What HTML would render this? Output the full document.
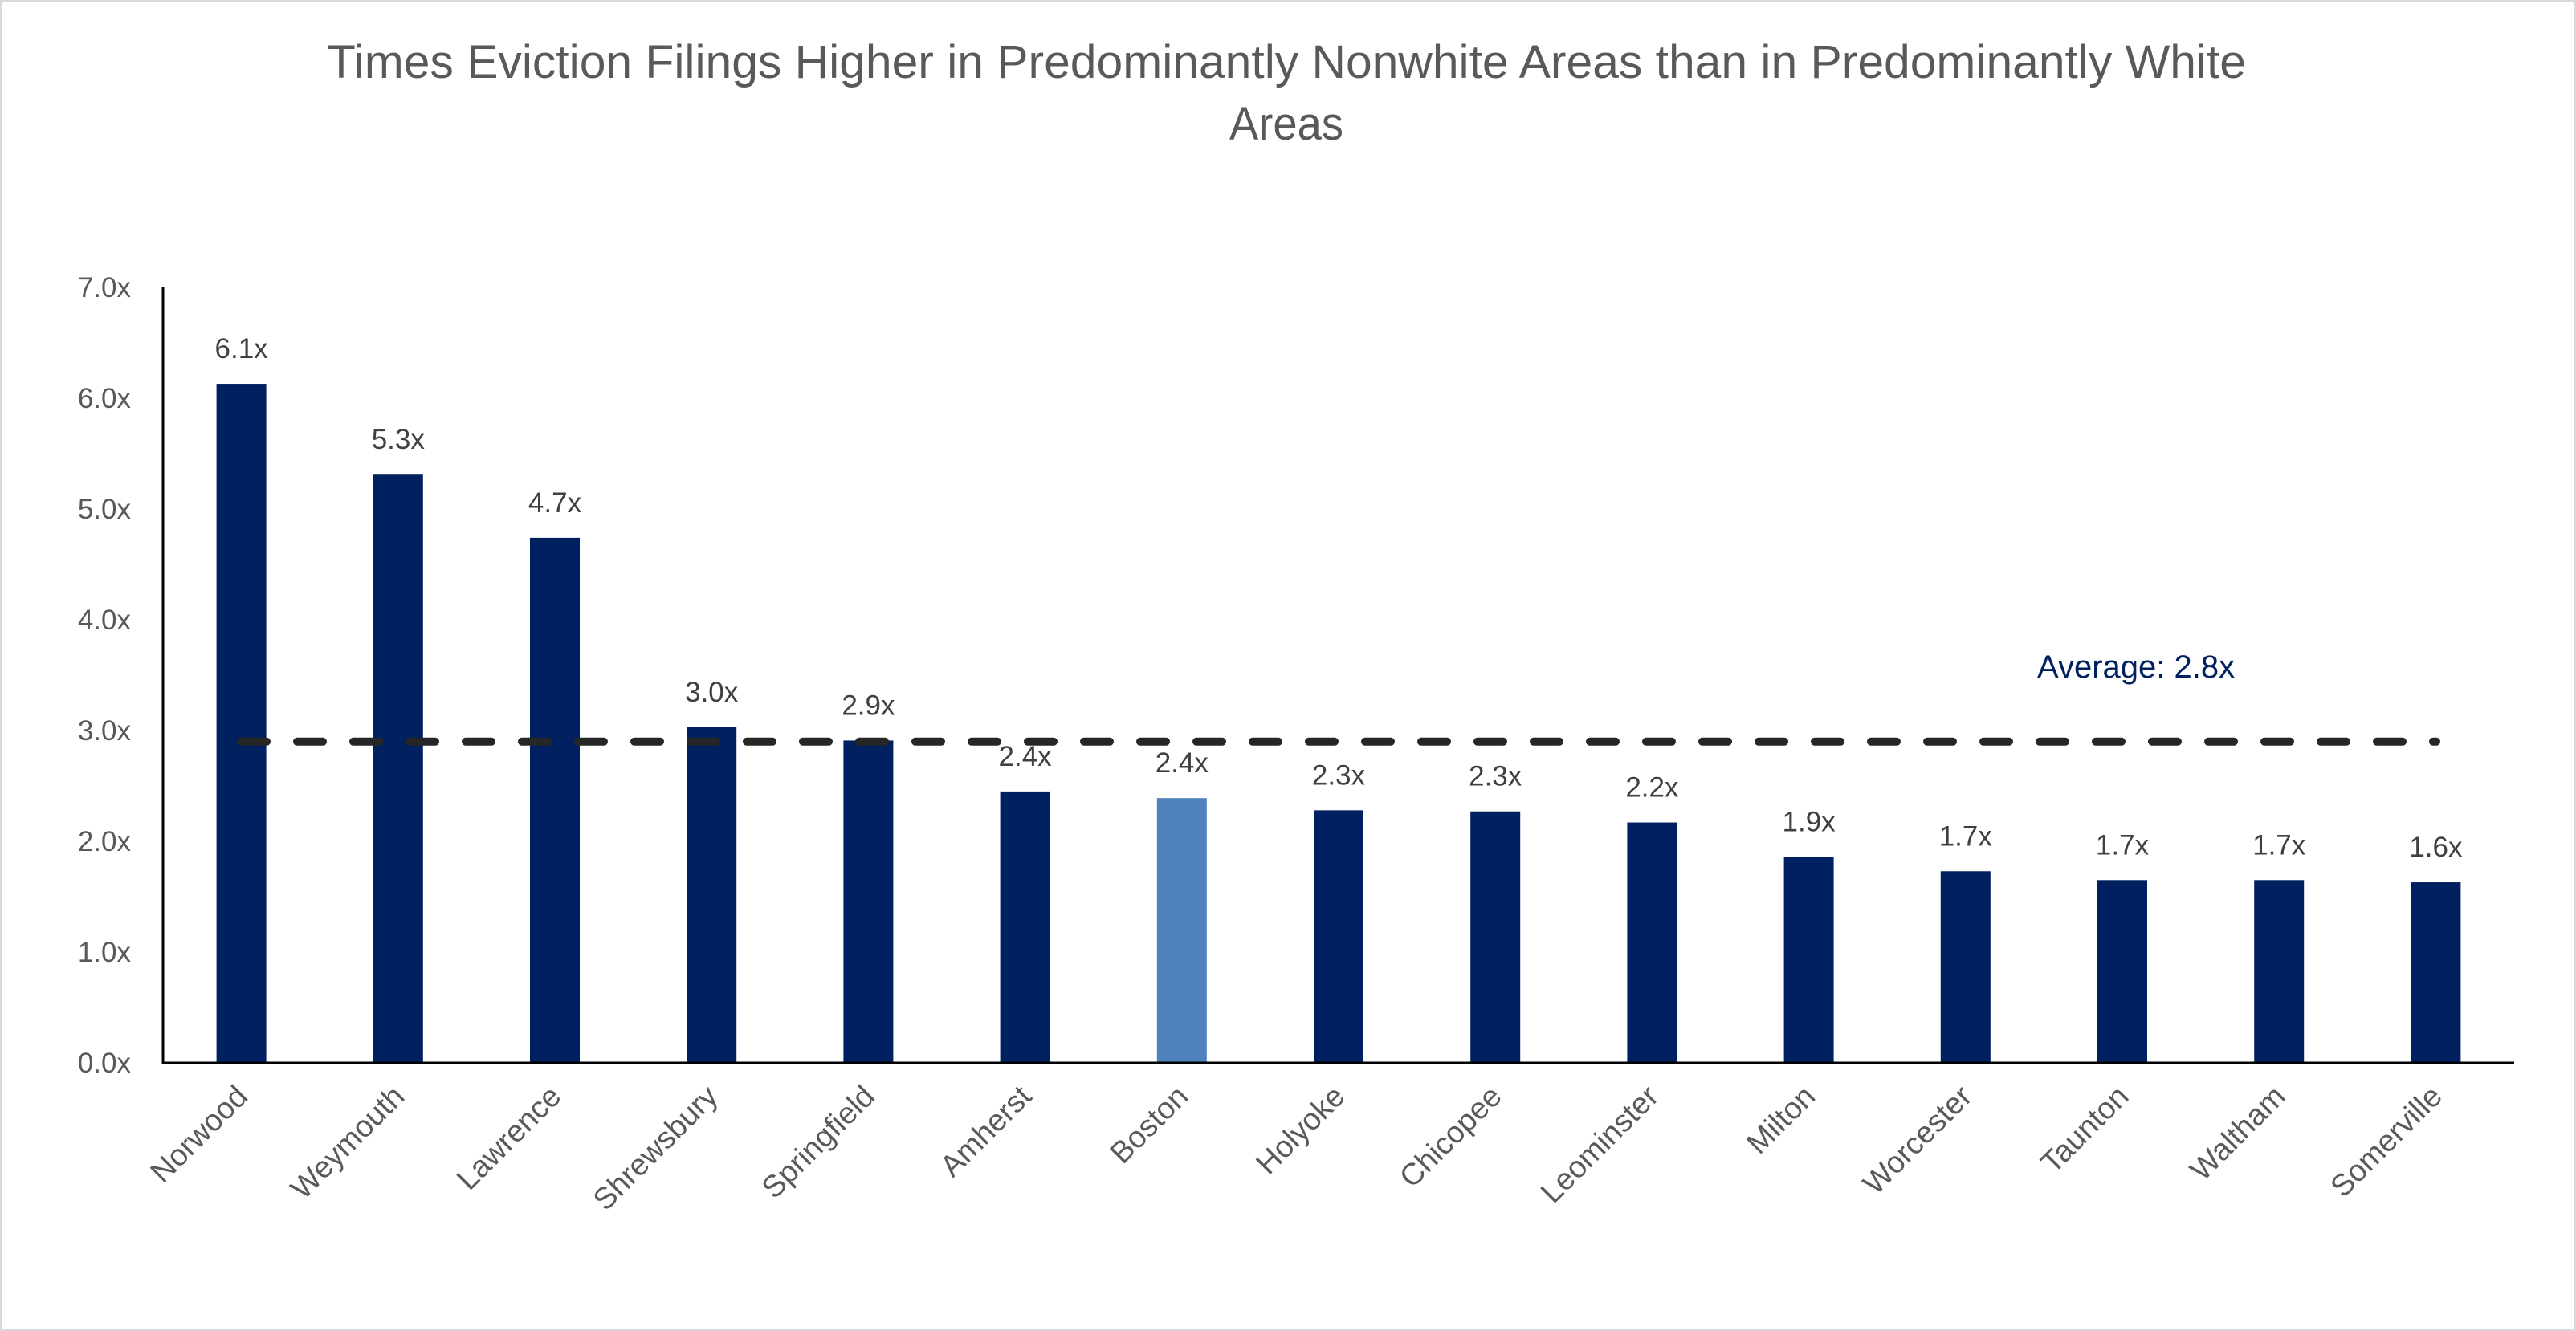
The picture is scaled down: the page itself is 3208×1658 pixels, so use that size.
<!DOCTYPE html>
<html><head><meta charset="utf-8">
<style>
html,body{margin:0;padding:0;background:#fff;}
svg{display:block;font-family:"Liberation Sans",sans-serif;}
</style></head>
<body>
<svg id="chart" width="3208" height="1658" viewBox="0 0 3208 1658" xmlns="http://www.w3.org/2000/svg">
<rect x="1" y="1" width="3206" height="1656" fill="#fff" stroke="#d9d9d9" stroke-width="2"/>
<text x="1602" y="97" text-anchor="middle" font-size="58" fill="#595959" textLength="2390" lengthAdjust="spacingAndGlyphs">Times Eviction Filings Higher in Predominantly Nonwhite Areas than in Predominantly White</text>
<text x="1602" y="174" text-anchor="middle" font-size="58" fill="#595959" textLength="142" lengthAdjust="spacingAndGlyphs">Areas</text>
<g id="plot"></g>
</svg>
<script>
const categories = ["Norwood","Weymouth","Lawrence","Shrewsbury","Springfield","Amherst","Boston","Holyoke","Chicopee","Leominster","Milton","Worcester","Taunton","Waltham","Somerville"];
const values = [6.13,5.31,4.74,3.03,2.91,2.45,2.39,2.28,2.27,2.17,1.86,1.73,1.65,1.65,1.63];
const valueLabels = ["6.1x","5.3x","4.7x","3.0x","2.9x","2.4x","2.4x","2.3x","2.3x","2.2x","1.9x","1.7x","1.7x","1.7x","1.6x"];
const highlight = ["Boston"];
const yTicks = [0,1,2,3,4,5,6,7];
const yTickLabels = ["0.0x","1.0x","2.0x","3.0x","4.0x","5.0x","6.0x","7.0x"];
const averageLine = [2.9];
const averageLabel = ["Average: 2.8x"];

const NS = "http://www.w3.org/2000/svg";
const g = document.getElementById("plot");
const X0 = 203, X1 = 3131, Y0 = 1324, YTOP = 358;
const band = (X1 - X0) / categories.length;
function xc(i){ return X0 + band * (i + 0.5); }
function y(v){ return Y0 - (Y0 - YTOP) * v / 7; }
function mk(tag, attrs){ const e = document.createElementNS(NS, tag); for (const k in attrs) e.setAttribute(k, attrs[k]); g.appendChild(e); return e; }

yTicks.forEach((t, i) => {
  const e = mk("text", {x: 163, y: y(t) + 12, "text-anchor": "end", "font-size": 35, fill: "#595959"});
  e.textContent = yTickLabels[i];
  
  
});

const bw = 62;
categories.forEach((c, i) => {
  const top = y(values[i]);
  const r = mk("rect", {x: xc(i) - bw/2, y: top, width: bw, height: Y0 - top, fill: highlight.includes(c) ? "#4f81bd" : "#002060"});
  
  
  const l = mk("text", {x: xc(i), y: top - 32, "text-anchor": "middle", "font-size": 35, fill: "#404040"});
  l.textContent = valueLabels[i];
  
  
  const ax = xc(i) + 10, ay = Y0 + 44;
  const cl = mk("text", {x: ax, y: ay, "text-anchor": "end", "font-size": 38, fill: "#595959", transform: `rotate(-45 ${ax} ${ay})`});
  cl.textContent = c;
  
  
});

const ya = mk("line", {x1: X0, y1: YTOP, x2: X0, y2: Y0 + 2, stroke: "#000", "stroke-width": 3});


const xa = mk("line", {x1: X0, y1: Y0, x2: X1, y2: Y0, stroke: "#000", "stroke-width": 3});



const ay2 = y(averageLine[0]);
const al = mk("line", {x1: 300, y1: ay2, x2: 3034, y2: ay2, stroke: "#262626", "stroke-width": 10, "stroke-dasharray": "32 38", "stroke-linecap": "round"});


const at = mk("text", {x: 2537, y: 844, "font-size": 40, fill: "#002060"});
at.textContent = averageLabel[0];


</script>
</body></html>
